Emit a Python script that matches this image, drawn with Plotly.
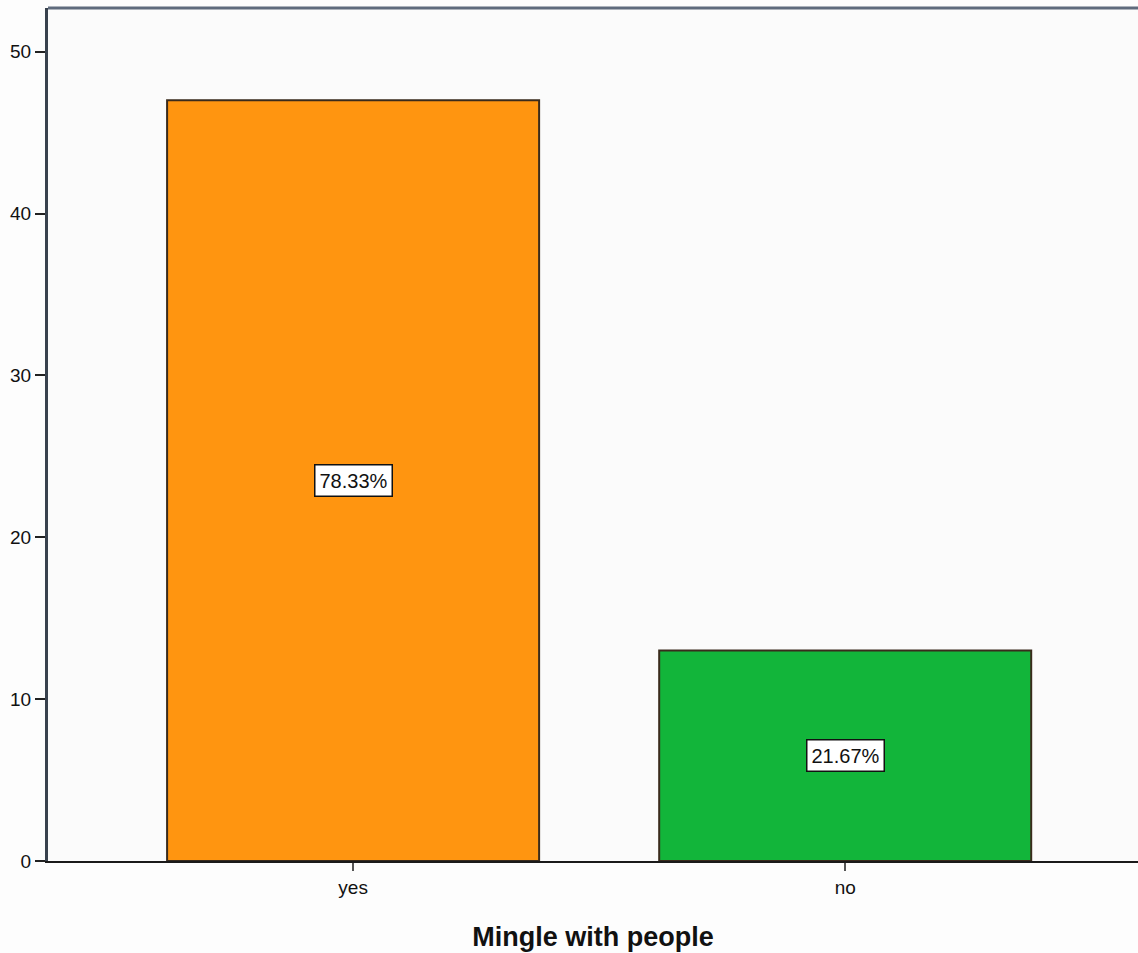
import plotly.graph_objects as go

# Responses to "Mingle with people"
categories = ["yes", "no"]
counts = [47, 13]
percent_labels = ["78.33%", "21.67%"]
bar_colors = ["#FF9510", "#12B53A"]
y_ticks = [0, 10, 20, 30, 40, 50]

fig = go.Figure()
fig.add_trace(go.Bar(
    x=categories,
    y=counts,
    width=0.756,
    marker=dict(color=bar_colors, line=dict(color="#3a2b1c", width=2)),
    hoverinfo="x+y",
))

# Percentage labels, boxed, centred in each bar
for cat, cnt, lab in zip(categories, counts, percent_labels):
    fig.add_annotation(
        x=cat, y=cnt / 2, text=lab, showarrow=False,
        font=dict(family="Arial, Liberation Sans", size=20, color="#111"),
        bgcolor="white", bordercolor="#111", borderwidth=1.5, borderpad=4,
    )

fig.update_layout(
    width=1138, height=953,
    margin=dict(l=48, r=0, t=8, b=92),
    paper_bgcolor="#fdfdfd",
    plot_bgcolor="#fbfbfb",
    showlegend=False,
    bargap=0.2,
    font=dict(family="Arial, Liberation Sans", color="#111"),
    xaxis=dict(
        range=[-0.62, 1.595],
        showline=True, linecolor="#1a1a1a", linewidth=2,
        ticks="outside", ticklen=8, tickwidth=2, tickcolor="#555",
        tickfont=dict(size=19),
        showgrid=False, zeroline=False,
        title=dict(text="<b>Mingle with people</b>", font=dict(size=27), standoff=30),
    ),
    yaxis=dict(
        range=[0, 52.7],
        tickvals=y_ticks,
        showline=True, linecolor="#39424e", linewidth=3,
        ticks="outside", ticklen=10, tickwidth=2, tickcolor="#222",
        tickfont=dict(size=19),
        showgrid=False, zeroline=False,
    ),
    shapes=[dict(
        type="line", xref="paper", yref="paper", x0=0, x1=1, y0=1, y1=1,
        line=dict(color="#5f6b7d", width=3),
    )],
)

fig.write_html("out.html")
